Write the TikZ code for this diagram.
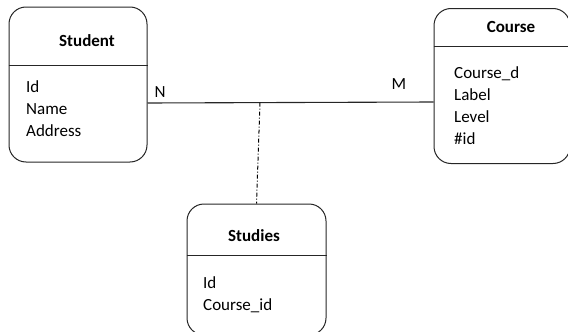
\documentclass[tikz,border=0pt]{standalone}
\usepackage{fontspec}
\setmainfont{Carlito}
\usetikzlibrary{calc}

\tikzset{
  entity/.style={draw=black!85, rounded corners=17pt, line width=1pt, inner sep=0pt},
  header/.style={draw=black!85, line width=1pt},
  title/.style={font=\bfseries\fontsize{17}{22}\selectfont},
  attrs/.style={font=\fontsize{17}{22}\selectfont, align=left, anchor=north west, inner sep=0pt},
  card/.style={font=\fontsize{17}{22}\selectfont},
  relline/.style={draw=black!85, line width=1.1pt},
  linkline/.style={draw=black, line width=1pt, dash pattern=on 4pt off 2pt on 1pt off 2pt},
}

\begin{document}
\begin{tikzpicture}[x=1pt, y=-1pt]
        \useasboundingbox (0,0) rectangle (568,332);
        \clip (0,0) rectangle (568,332);
        % entities
        \node[entity, minimum width=138pt, minimum height=155pt] (student) at (78,84.5) {};
        \node[entity, minimum width=136pt, minimum height=155pt] (course) at (502,86) {};
        \node[entity, minimum width=139pt, minimum height=131pt] (studies) at (256.5,269.5) {};
        \draw[header] (student.west |- 0,65) -- (student.east |- 0,65);
        \draw[header] (course.west |- 0,46) -- (course.east |- 0,46);
        \draw[header] (studies.west |- 0,255) -- (studies.east |- 0,255);
        % titles
        \node[title] (studentname) at (87,41) {Student};
        \node[title] (coursename) at (511,27) {Course};
        \node[title] (studiesname) at (254,236) {Studies};
        % attributes
        \node[attrs] (studentattr) at (26,80) {Id\\Name\\Address};
        \node[attrs] (courseattr) at (454,66) {Course\_d\\Label\\Level\\\#id};
        \node[attrs] (studiesattr) at (203,276) {Id\\Course\_id};
        % relationship
        \coordinate (left) at (student.east |- 0,103);
        \coordinate (right) at (course.west |- 0,102);
        \coordinate (mid) at (260,102.6);
        \draw[relline] (left) -- (right);
        \draw[linkline] (mid) -- (studies.north);
        \node[card] (n) at (160,92) {N};
        \node[card] (m) at (399,84) {M};
    \end{tikzpicture}
\end{document}
